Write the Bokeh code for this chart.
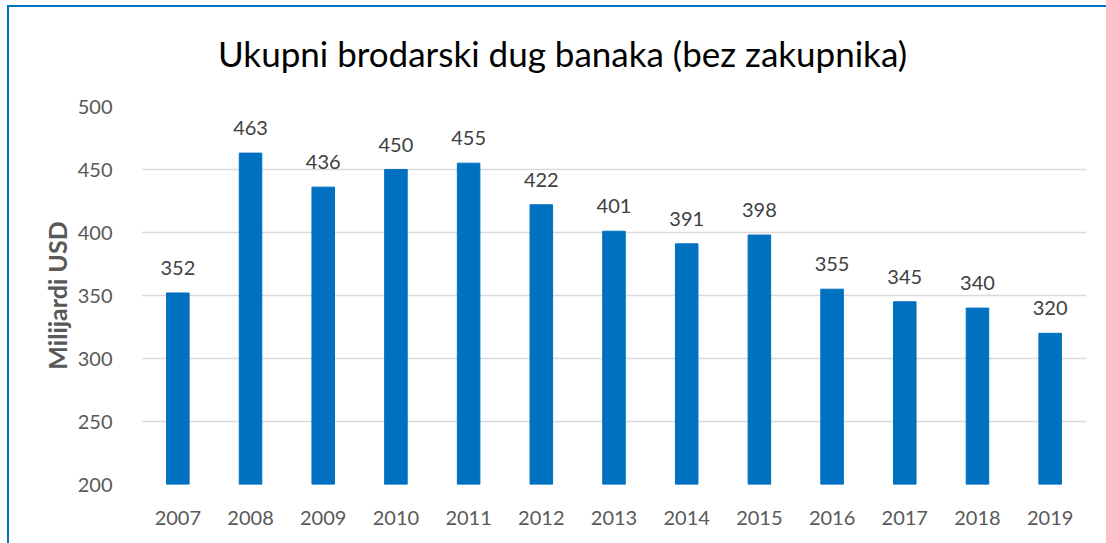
from bokeh.plotting import figure
from bokeh.models import ColumnDataSource, LabelSet, FactorRange, Range1d, FixedTicker, Div
from bokeh.layouts import column
from bokeh.core.properties import value
from bokeh.embed import file_html
from bokeh.resources import INLINE

years = ["2007", "2008", "2009", "2010", "2011", "2012", "2013", "2014", "2015", "2016", "2017", "2018", "2019"]
debt = [352, 463, 436, 450, 455, 422, 401, 391, 398, 355, 345, 340, 320]
y_ticks = [200, 250, 300, 350, 400, 450, 500]
title_text = "Ukupni brodarski dug banaka (bez zakupnika)"
y_label = "Milijardi USD"

FONT = "Lato"
BLUE = "#0070C0"

src = ColumnDataSource(data=dict(year=years, debt=debt, base=[200] * len(years),
                                 lab=[str(v) for v in debt]))

title_div = Div(
    text=('<div style="font-family: Lato; font-size: 35px; line-height: 42px; color: #000000; '
          'text-align: center; width: 1090px; padding-left: 7px; padding-top: 20px; '
          'white-space: nowrap;">' + title_text + '</div>'),
    width=1097, height=60)

p = figure(width=1097, height=466, x_range=FactorRange(*years, range_padding=0),
           y_range=Range1d(200, 500), output_backend="svg", toolbar_location=None,
           min_border_left=132, min_border_right=20, min_border_top=29, min_border_bottom=59)

p.vbar(x="year", top="debt", bottom="base", width=0.31, color=BLUE, source=src)

labels = LabelSet(x="year", y="debt", text="lab", source=src, text_align="center",
                  text_baseline="middle", y_offset=25, text_font=value(FONT),
                  text_font_size=value("20px"), text_color=value("#404040"))
p.add_layout(labels)

p.outline_line_color = None
p.xgrid.grid_line_color = None
p.ygrid.grid_line_color = "#d9d9d9"
p.ygrid.grid_line_width = 1.5

p.yaxis.ticker = FixedTicker(ticks=y_ticks)
p.yaxis.axis_line_color = None
p.yaxis.major_tick_line_color = None
p.yaxis.minor_tick_line_color = None
p.yaxis.major_label_standoff = 23
p.yaxis.major_label_text_font = FONT
p.yaxis.major_label_text_font_size = "20px"
p.yaxis.major_label_text_color = "#595959"
p.yaxis.axis_label = y_label
p.yaxis.axis_label_text_font = FONT
p.yaxis.axis_label_text_font_size = "25px"
p.yaxis.axis_label_text_font_style = "bold"
p.yaxis.axis_label_text_color = "#595959"
p.yaxis.axis_label_standoff = 3

p.xaxis.axis_line_color = None
p.xaxis.major_tick_line_color = None
p.xaxis.major_label_standoff = 20
p.xaxis.major_label_text_font = FONT
p.xaxis.major_label_text_font_size = "20px"
p.xaxis.major_label_text_color = "#595959"

layout = column(title_div, p, spacing=0)
layout.styles = {"border-left": "2px solid " + BLUE, "border-top": "2px solid " + BLUE,
                 "margin-left": "7px", "margin-top": "5px"}

open("out.html", "w").write(file_html(layout, INLINE))
